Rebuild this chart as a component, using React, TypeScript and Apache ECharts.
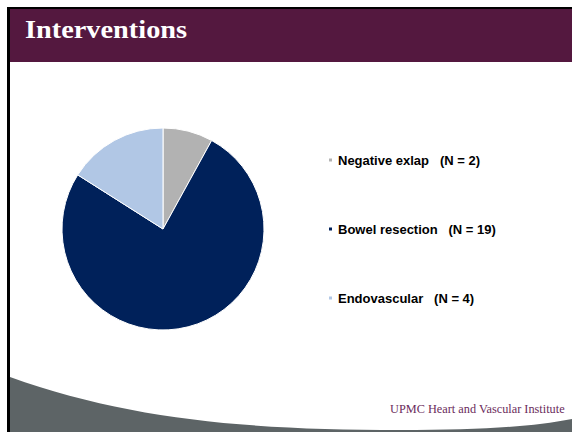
import React, { useEffect, useRef } from "react";
import * as echarts from "echarts";

const categories = ["Negative exlap", "Bowel resection", "Endovascular"];
const counts = [2, 19, 4];
const sliceColors = ["#B2B2B2", "#00215A", "#B1C7E5"];
const titleText = "Interventions";
const footerText = "UPMC Heart and Vascular Institute";

const swooshPath =
  "M10 377 C 130 420, 250 430, 400 430 C 480 430, 530 427, 572 419 L 572 432 L 10 432 Z";

let registered = false;
function registerShapes() {
  if (registered) return;
  echarts.graphic.registerShape("swoosh", echarts.graphic.extendPath(swooshPath, {}) as any);
  registered = true;
}

export default function App() {
  const ref = useRef<HTMLDivElement>(null);
  useEffect(() => {
    if (!ref.current) return;
    registerShapes();
    const chart = echarts.init(ref.current, undefined, { renderer: "svg" });
    const data = categories.map((name, i) => ({
      name,
      value: counts[i],
      itemStyle: { color: sliceColors[i] },
    }));
    chart.setOption({
      animation: false,
      backgroundColor: "#ffffff",
      graphic: [
        { type: "rect", shape: { x: 7, y: 7, width: 565, height: 2 }, style: { fill: "#000" } },
        { type: "rect", shape: { x: 7, y: 7, width: 3, height: 425 }, style: { fill: "#000" } },
        { type: "rect", shape: { x: 10, y: 9, width: 562, height: 53 }, style: { fill: "#54183F" } },
        {
          type: "text",
          x: 25,
          y: 29,
          scaleX: 1.09,
          style: {
            text: titleText,
            fill: "#ffffff",
            font: 'bold 26px "Liberation Serif"',
            verticalAlign: "middle",
            align: "left",
          },
        },
        { type: "swoosh", x: 0, y: 0, style: { fill: "#5D6466" } },
        {
          type: "text",
          x: 390,
          y: 409,
          style: {
            text: footerText,
            fill: "#6B2C5C",
            font: '12.3px "Liberation Serif"',
            verticalAlign: "middle",
            align: "left",
          },
        },
      ],
      legend: {
        orient: "vertical",
        left: 322,
        top: 148,
        itemWidth: 5,
        itemHeight: 5,
        itemGap: 55,
        icon: "rect",
        data: categories,
        formatter: (name: string) => {
          const i = categories.indexOf(name);
          return `${name}   (N = ${counts[i]})`;
        },
        textStyle: {
          fontFamily: "Liberation Sans",
          fontWeight: "bold",
          fontSize: 13,
          lineHeight: 14,
          color: "#000",
        },
      },
      series: [
        {
          type: "pie",
          center: [163, 229],
          radius: 101,
          startAngle: 90,
          clockwise: true,
          label: { show: false },
          labelLine: { show: false },
          emphasis: { disabled: true },
          itemStyle: { borderColor: "#ffffff", borderWidth: 1 },
          data,
        },
      ],
    });
    return () => chart.dispose();
  }, []);
  return (
    <div
      ref={ref}
      style={{ position: "absolute", left: 0, top: 0, width: 572, height: 432 }}
    />
  );
}
